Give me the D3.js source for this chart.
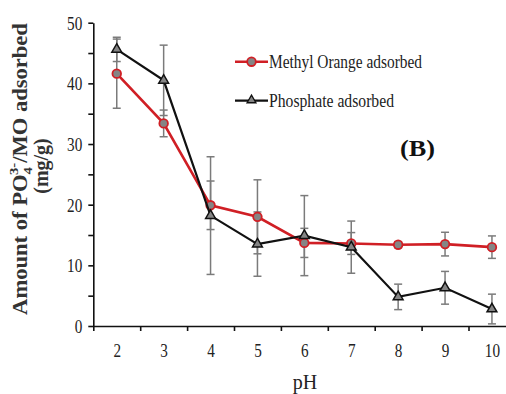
<!DOCTYPE html>
<html>
<head>
<meta charset="utf-8">
<script src="https://cdn.jsdelivr.net/npm/d3@7"></script>
<style>
  html, body { margin: 0; padding: 0; background: #fff; }
  svg { display: block; }
</style>
</head>
<body>
<svg id="chart" width="506" height="394"></svg>
<script>
// pH values and adsorbed amounts (mg/g) with error bar half-widths
const phValues = [2, 3, 4, 5, 6, 7, 8, 9, 10];
const moAdsorbed = [41.6, 33.4, 19.9, 18.0, 13.7, 13.6, 13.4, 13.5, 13.0];
const moError = [5.7, 2.2, 4.0, 6.1, 2.4, 1.8, 0.5, 1.95, 1.85];
const phosAdsorbed = [45.6, 40.5, 18.2, 13.5, 14.9, 13.0, 4.8, 6.3, 2.8];
const phosError = [2.0, 5.8, 9.7, 5.3, 6.6, 4.3, 2.1, 2.7, 2.45];
const yTickValues = [0, 5, 10, 15, 20, 25, 30, 35, 40, 45, 50];
const yLabelValues = [0, 10, 20, 30, 40, 50];
const seriesNames = ["Methyl Orange adsorbed", "Phosphate adsorbed"];
const panelTag = "(B)";

const FONT = "'Liberation Serif', 'Times New Roman', Times, serif";
const RED = "#d01f25";
const BLACK = "#111";
const GREY_FILL = "#858585";
const ERR = "#7b7b7b";

const svg = d3.select("#chart");

// scales: each pH sits in the middle of its own unit band
const x = d3.scaleLinear().domain([1.5, 10.5]).range([93.3, 515.4]);
const y = d3.scaleLinear().domain([0, 50]).range([326, 22.7]);

// squeeze a text element horizontally to a target width
function fitWidth(sel, w) {
  const node = sel.node();
  const len = node.getComputedTextLength();
  sel.attr("textLength", w).attr("lengthAdjust", "spacingAndGlyphs");
  return len;
}

// ---- y axis
const yAxis = svg.append("g")
  .attr("transform", `translate(${x(1.5)},0)`)
  .call(d3.axisLeft(y).tickValues(yTickValues).tickSize(5).tickSizeOuter(0)
    .tickFormat(d => yLabelValues.includes(d) ? d : ""));
yAxis.select(".domain").attr("stroke", BLACK).attr("stroke-width", 1.6);
yAxis.selectAll(".tick line").attr("stroke", BLACK).attr("stroke-width", 1.6);
yAxis.selectAll(".tick text")
  .attr("font-family", FONT).attr("font-size", 19).attr("fill", "#222")
  .attr("x", null).attr("dy", null).attr("y", 6.5)
  .attr("transform", "translate(-11,0) scale(0.8,1)");

// ---- x axis: tick marks between the pH bands
const xAxis = svg.append("g")
  .attr("transform", `translate(0,${y(0)})`)
  .call(d3.axisBottom(x).tickValues(d3.range(1.5, 11, 1)).tickSize(5).tickSizeOuter(0).tickFormat(""));
xAxis.select(".domain").attr("stroke", BLACK).attr("stroke-width", 1.6);
xAxis.selectAll(".tick line").attr("stroke", BLACK).attr("stroke-width", 1.6);

// pH labels centred in the bands
const xLabels = svg.append("g")
  .attr("transform", `translate(0,${y(0)})`)
  .call(d3.axisBottom(x).tickValues(phValues).tickSize(0).tickFormat(d => d));
xLabels.select(".domain").remove();
xLabels.selectAll(".tick text")
  .attr("font-family", FONT).attr("font-size", 19).attr("fill", "#222")
  .attr("y", null).attr("dy", null)
  .attr("transform", "translate(0,31) scale(0.8,1)");

// ---- axis titles
svg.append("text")
  .attr("x", 305).attr("y", 389)
  .attr("text-anchor", "middle")
  .attr("font-family", FONT).attr("font-size", 20).attr("fill", "#222")
  .text("pH");

const yTitle = svg.append("text")
  .attr("font-family", FONT).attr("font-size", 20).attr("font-weight", "bold").attr("fill", "#333")
  .attr("text-anchor", "middle");
yTitle.append("tspan").text("Amount of PO");
yTitle.append("tspan").attr("font-size", 13).attr("dy", 5).text("4");
yTitle.append("tspan").attr("font-size", 13).attr("dx", -7).attr("dy", -14).text("3-");
yTitle.append("tspan").attr("dy", 9).text("/MO adsorbed");
{
  const bw = yTitle.node().getBBox().width;
  const s = 292 / bw;
  yTitle.attr("transform", `translate(27,169) rotate(-90) scale(${s},1)`);
}

svg.append("text")
  .attr("font-family", FONT).attr("font-size", 20).attr("font-weight", "bold").attr("fill", "#333")
  .attr("text-anchor", "middle")
  .attr("transform", "translate(48,166) rotate(-90)")
  .text("(mg/g)");

// ---- error bars
function errorBars(vals, errs, cls) {
  const g = svg.append("g").attr("class", cls)
    .attr("stroke", ERR).attr("stroke-width", 1.5).attr("fill", "none");
  const data = phValues.map((p, i) => ({ p, v: vals[i], e: errs[i] }));
  g.selectAll("line.v").data(data).join("line").attr("class", "v")
    .attr("x1", d => x(d.p)).attr("x2", d => x(d.p))
    .attr("y1", d => y(d.v + d.e)).attr("y2", d => y(d.v - d.e));
  g.selectAll("line.t").data(data).join("line").attr("class", "t")
    .attr("x1", d => x(d.p) - 4).attr("x2", d => x(d.p) + 4)
    .attr("y1", d => y(d.v + d.e)).attr("y2", d => y(d.v + d.e));
  g.selectAll("line.b").data(data).join("line").attr("class", "b")
    .attr("x1", d => x(d.p) - 4).attr("x2", d => x(d.p) + 4)
    .attr("y1", d => y(d.v - d.e)).attr("y2", d => y(d.v - d.e));
}
errorBars(moAdsorbed, moError, "err-mo");
errorBars(phosAdsorbed, phosError, "err-phos");

const line = d3.line().x(d => x(d[0])).y(d => y(d[1]));

// ---- methyl orange series
const moPts = phValues.map((p, i) => [p, moAdsorbed[i]]);
svg.append("path").datum(moPts)
  .attr("d", line).attr("fill", "none").attr("stroke", RED).attr("stroke-width", 2.6);
svg.append("g").selectAll("circle").data(moPts).join("circle")
  .attr("cx", d => x(d[0])).attr("cy", d => y(d[1])).attr("r", 4.3)
  .attr("fill", GREY_FILL).attr("stroke", RED).attr("stroke-width", 1.8);

// ---- phosphate series
const phPts = phValues.map((p, i) => [p, phosAdsorbed[i]]);
const tri = d3.symbol().type(d3.symbolTriangle).size(42);
svg.append("path").datum(phPts)
  .attr("d", line).attr("fill", "none").attr("stroke", BLACK).attr("stroke-width", 2.2);
svg.append("g").selectAll("path").data(phPts).join("path")
  .attr("d", tri).attr("transform", d => `translate(${x(d[0])},${y(d[1])})`)
  .attr("fill", GREY_FILL).attr("stroke", BLACK).attr("stroke-width", 1.5);

// ---- legend
const legend = svg.append("g");
legend.append("line").attr("x1", 235).attr("x2", 268).attr("y1", 61.7).attr("y2", 61.7)
  .attr("stroke", RED).attr("stroke-width", 2.6);
legend.append("circle").attr("cx", 251.5).attr("cy", 61.7).attr("r", 4.3)
  .attr("fill", GREY_FILL).attr("stroke", RED).attr("stroke-width", 1.8);
const lt1 = legend.append("text").attr("x", 269).attr("y", 67.5)
  .attr("font-family", FONT).attr("font-size", 18).attr("fill", "#222").text(seriesNames[0]);
fitWidth(lt1, 153);

legend.append("line").attr("x1", 235).attr("x2", 268).attr("y1", 100.7).attr("y2", 100.7)
  .attr("stroke", BLACK).attr("stroke-width", 2.2);
legend.append("path").attr("d", d3.symbol().type(d3.symbolTriangle).size(34))
  .attr("transform", "translate(251.5,100.2)")
  .attr("fill", GREY_FILL).attr("stroke", BLACK).attr("stroke-width", 1.3);
const lt2 = legend.append("text").attr("x", 269).attr("y", 106.5)
  .attr("font-family", FONT).attr("font-size", 18).attr("fill", "#222").text(seriesNames[1]);
fitWidth(lt2, 125);

// panel tag
const tag = svg.append("text").attr("x", 400).attr("y", 155.5)
  .attr("font-family", FONT).attr("font-size", 23).attr("font-weight", "bold").attr("fill", "#111")
  .text(panelTag);
fitWidth(tag, 35);
</script>
</body>
</html>
